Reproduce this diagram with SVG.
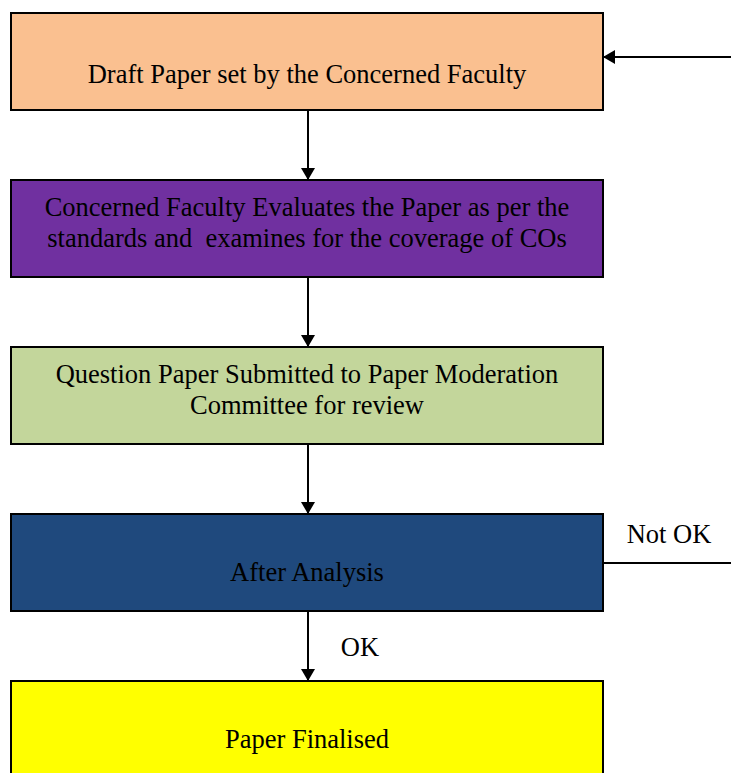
<svg xmlns="http://www.w3.org/2000/svg" width="731" height="773" viewBox="0 0 731 773">
<defs>
<style>
.box{stroke:#000;stroke-width:2}
.t{font-family:'Liberation Serif','Times New Roman',serif;font-size:26.5px;fill:#000;text-anchor:middle}
.ln{stroke:#000;stroke-width:2;fill:none}
</style>
<marker id="ah" markerWidth="12" markerHeight="14" refX="12" refY="7" orient="auto" markerUnits="userSpaceOnUse">
<path d="M0,0 L12,7 L0,14 Z" fill="#000"/>
</marker>
</defs>
<rect width="731" height="773" fill="#fff"/>
<g id="n1"><rect class="box" x="11" y="13" width="592" height="97" fill="#FAC090"/><text class="t" x="307" y="83">Draft Paper set by the Concerned Faculty</text></g>
<g id="n2"><rect class="box" x="11" y="180" width="592" height="97" fill="#7030A0"/><text class="t" x="307" y="216">Concerned Faculty Evaluates the Paper as per the</text><text class="t" x="307" y="247" xml:space="preserve">standards and  examines for the coverage of COs</text></g>
<g id="n3"><rect class="box" x="11" y="347" width="592" height="97" fill="#C3D69B"/><text class="t" x="307" y="383">Question Paper Submitted to Paper Moderation</text><text class="t" x="307" y="414">Committee for review</text></g>
<g id="n4"><rect class="box" x="11" y="514" width="592" height="97" fill="#1F497D"/><text class="t" x="307" y="581">After Analysis</text></g>
<g id="n5"><rect class="box" x="11" y="681" width="592" height="100" fill="#FFFF00"/><text class="t" x="307" y="748">Paper Finalised</text></g>
<g id="connectors">
<line class="ln" x1="308" y1="110" x2="308" y2="180" marker-end="url(#ah)"/>
<line class="ln" x1="308" y1="277" x2="308" y2="347" marker-end="url(#ah)"/>
<line class="ln" x1="308" y1="444" x2="308" y2="514" marker-end="url(#ah)"/>
<line class="ln" x1="308" y1="611" x2="308" y2="681" marker-end="url(#ah)"/>
<line class="ln" x1="731" y1="57" x2="603" y2="57" marker-end="url(#ah)"/>
<line class="ln" x1="603" y1="563" x2="731" y2="563"/>
<text class="t" x="669" y="543">Not OK</text>
<text class="t" x="360" y="656">OK</text>
</g>
</svg>
